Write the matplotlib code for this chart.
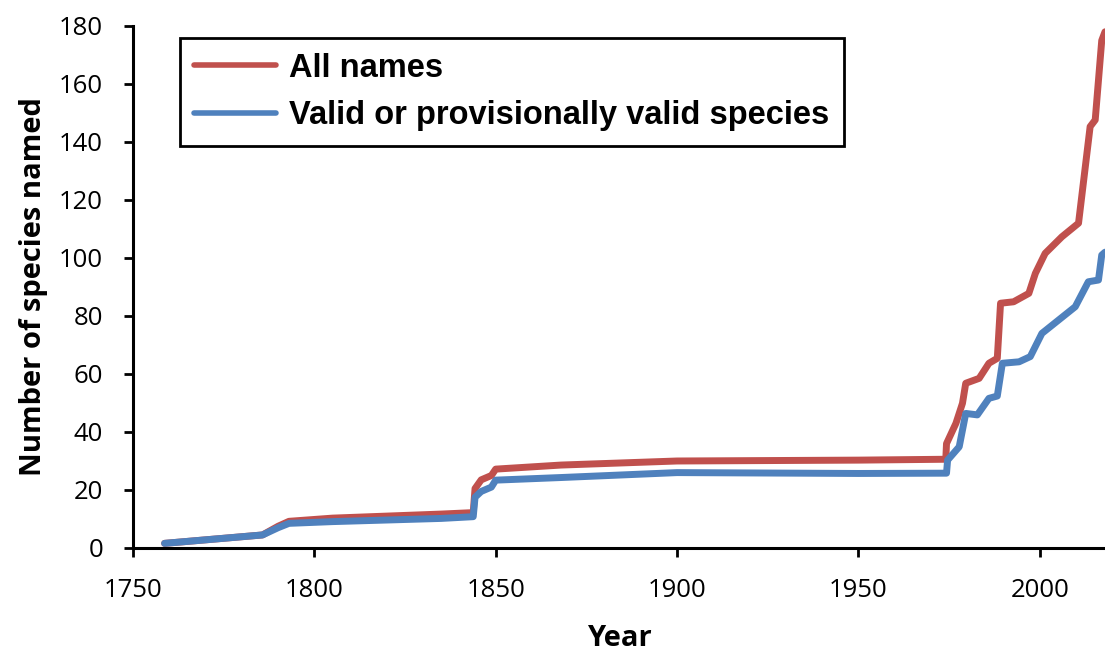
import numpy as np
import matplotlib.pyplot as plt

# cumulative counts
all_years = [1758.7, 1785.7, 1790, 1793, 1805, 1835, 1843.8, 1844.3, 1846, 1848.8, 1850,
             1868, 1900, 1950, 1974.1, 1974.3, 1976.9, 1978.7, 1979.6, 1983.3, 1986,
             1988.3, 1989.2, 1992.8, 1997, 1998.8, 2001.5, 2006.1, 2010.7, 2013.9,
             2015.3, 2017.1, 2018]
all_names = [1.6, 4.5, 7.5, 9.2, 10.3, 11.7, 12.2, 20.5, 23.5, 25, 27.2,
             28.6, 30, 30.3, 30.6, 36, 43, 49.9, 56.8, 58.5, 63.7,
             65.4, 84.4, 84.9, 87.8, 94.7, 101.6, 107.3, 112, 145.3,
             147.6, 175, 178]

valid_years = [1758.7, 1785.7, 1790, 1793, 1805, 1835, 1843.8, 1844.3, 1846, 1848.8, 1850,
               1868, 1900, 1950, 1974.3, 1974.6, 1977.8, 1979.6, 1982.8, 1986,
               1988.3, 1989.7, 1994.3, 1997.4, 2000.6, 2009.8, 2013.4, 2016.2,
               2017.1, 2018]
valid_species = [1.6, 4.5, 7, 8.5, 9.1, 10.2, 10.8, 17.5, 19.5, 21, 23.4,
                 24.3, 26, 25.7, 25.8, 30.3, 34.9, 46.4, 45.9, 51.6,
                 52.4, 63.7, 64.2, 66, 74, 83.2, 91.8, 92.4,
                 101, 102]

plt.rcParams['font.family'] = ['Open Sans', 'DejaVu Sans']

fig = plt.figure(figsize=(11.05, 6.53), dpi=100)
ax = fig.add_axes([0.1204, 0.1608, 0.8796, 0.7994])

ax.plot(all_years, all_names, color='#C0504D', lw=5, label='All names',
        solid_capstyle='round', solid_joinstyle='round')
ax.plot(valid_years, valid_species, color='#4F81BD', lw=5,
        label='Valid or provisionally valid species',
        solid_capstyle='round', solid_joinstyle='round')

ax.set_xlim(1750, 2018)
ax.set_ylim(0, 180)
ax.set_xticks(np.arange(1750, 2001, 50))
ax.set_yticks(np.arange(0, 181, 20))
ax.spines['top'].set_visible(False)
ax.spines['right'].set_visible(False)
for s in ['left', 'bottom']:
    ax.spines[s].set_linewidth(2.2)
ax.tick_params(direction='out', length=6.5, width=2, labelsize=18.5, pad=15)

ax.set_xlabel('Year', fontsize=21, fontweight='bold', labelpad=15)
ax.set_ylabel('Number of species named', fontsize=21, fontweight='bold', labelpad=8)

leg = ax.legend(loc='upper left', bbox_to_anchor=(0.048, 0.977), borderaxespad=0,
                fancybox=False, edgecolor='black', framealpha=1, handlelength=2.5,
                handletextpad=0.4, borderpad=0.45, labelspacing=0.5,
                prop={'family': 'Liberation Sans', 'size': 23.5, 'weight': 'bold'})
leg.get_frame().set_linewidth(2)
for h in leg.get_lines():
    h.set_linewidth(4)

fig.savefig('out.png', dpi=100)
